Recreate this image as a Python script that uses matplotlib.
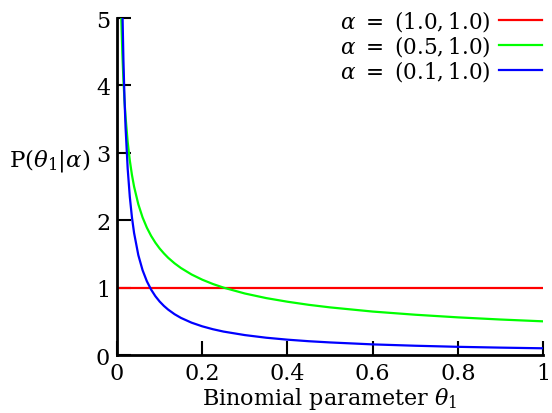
import matplotlib
matplotlib.use("Agg")
import matplotlib.pyplot as plt

# values (density of theta_1 for each alpha)
theta = [0.005, 0.01, 0.0125, 0.015, 0.0175, 0.02, 0.025, 0.03, 0.035, 0.04,
         0.05, 0.06, 0.07, 0.08, 0.09, 0.1, 0.11, 0.12, 0.135, 0.15,
         0.175, 0.2, 0.225, 0.25, 0.3, 0.35, 0.4, 0.45, 0.5, 0.6,
         0.7, 0.8, 0.9, 1.0]
dens_05 = [7.071, 5.0, 4.472, 4.082, 3.780, 3.536, 3.162, 2.887, 2.673, 2.5,
           2.236, 2.041, 1.890, 1.768, 1.667, 1.581, 1.508, 1.443, 1.361, 1.291,
           1.195, 1.118, 1.054, 1.0, 0.913, 0.845, 0.791, 0.745, 0.707, 0.645,
           0.598, 0.559, 0.527, 0.5]
dens_01 = [11.77, 6.310, 5.163, 4.381, 3.813, 3.381, 2.766, 2.347, 2.043, 1.812,
           1.482, 1.258, 1.095, 0.971, 0.873, 0.794, 0.729, 0.674, 0.606, 0.551,
           0.480, 0.426, 0.383, 0.348, 0.296, 0.257, 0.228, 0.205, 0.187, 0.158,
           0.138, 0.122, 0.110, 0.100]
flat_x = [0.0, 1.0]
flat_y = [1.0, 1.0]

labels = [r"$\alpha\ =\ (1.0, 1.0)$", r"$\alpha\ =\ (0.5, 1.0)$", r"$\alpha\ =\ (0.1, 1.0)$"]
x_ticks = [0, 0.2, 0.4, 0.6, 0.8, 1.0]
x_ticklabels = ["0", "0.2", "0.4", "0.6", "0.8", "1"]
y_ticks = [0, 1, 2, 3, 4, 5]

plt.rcParams["font.family"] = ["DejaVu Serif"]
plt.rcParams["mathtext.fontset"] = "dejavuserif"

fig = plt.figure(figsize=(5.52, 4.14), dpi=100)
ax = fig.add_axes([0.212, 0.140, 0.772, 0.814])

ax.plot(flat_x, flat_y, color="#ff0000", lw=1.6, label=labels[0])
ax.plot(theta, dens_05, color="#00ff00", lw=1.6, label=labels[1])
ax.plot(theta, dens_01, color="#0000ff", lw=1.6, label=labels[2])

ax.set_xlim(0, 1)
ax.set_ylim(0, 5)
ax.set_xticks(x_ticks)
ax.set_xticklabels(x_ticklabels)
ax.set_yticks(y_ticks)

for side in ("top", "right"):
    ax.spines[side].set_visible(False)
for side in ("left", "bottom"):
    ax.spines[side].set_linewidth(2.0)
ax.tick_params(direction="in", length=10, width=1.5, labelsize=16, pad=5)

ax.set_xlabel(r"Binomial parameter $\theta_1$", fontsize=16, labelpad=1)
ax.set_ylabel(r"$\mathrm{P}(\theta_1|\alpha)$", fontsize=16.5, rotation=0,
              ha="right", va="center")
ax.yaxis.set_label_coords(-0.062, 0.58)

ax.legend(loc="upper right", bbox_to_anchor=(1.018, 1.055), frameon=False,
          markerfirst=False, fontsize=15.5, handlelength=2.0, handletextpad=0.4,
          labelspacing=0.0, borderaxespad=0.0)

fig.savefig("out.png", dpi=100)
